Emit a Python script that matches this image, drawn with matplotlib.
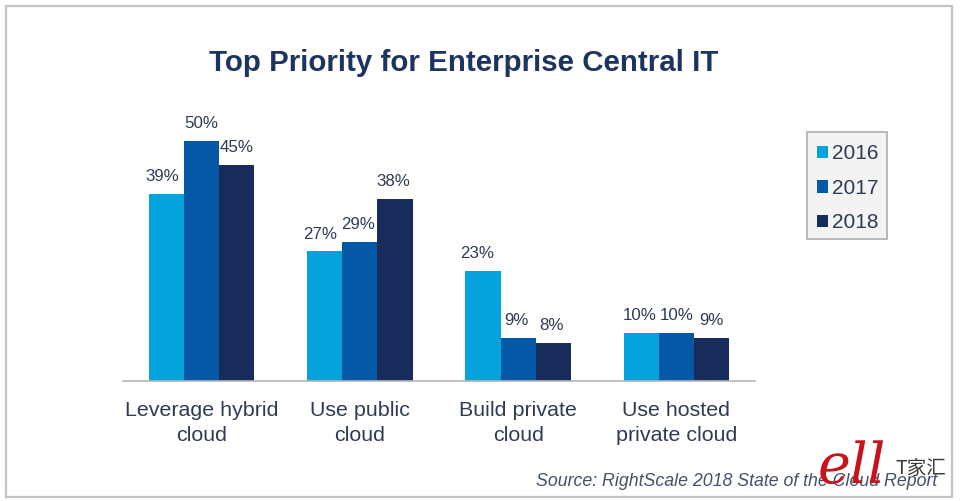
import matplotlib
matplotlib.use("Agg")
import matplotlib.pyplot as plt
from matplotlib.patches import Rectangle
import numpy as np

categories = ["Leverage hybrid\ncloud", "Use public\ncloud", "Build private\ncloud", "Use hosted\nprivate cloud"]
years = ["2016", "2017", "2018"]
v2016 = [39, 27, 23, 10]
v2017 = [50, 29, 9, 10]
v2018 = [45, 38, 8, 9]
series = [v2016, v2017, v2018]
colors = ["#05a3dc", "#0458a6", "#182c5c"]
label_shift = [[-3, -3, -4, -1], [0, -1, -1, 0], [0, -1, -1, 0]]
TEXT = "#2f3b55"
W, H = 960, 501

plt.rcParams["font.family"] = ["Liberation Sans", "DejaVu Sans"]
fig = plt.figure(figsize=(W / 100, H / 100), dpi=100)
fig.add_artist(Rectangle((6 / W, 1 - 497 / H), 946 / W, 491 / H, transform=fig.transFigure,
                         fill=False, ec="#c4c4c4", lw=1.6))
fig.add_artist(Rectangle((807 / W, 1 - 239 / H), 80 / W, 107 / H, transform=fig.transFigure,
                         fc="#f3f3f3", ec="#b9b9b9", lw=1.4))

ax = fig.add_axes([123 / W, 1 - 381 / H, 632 / W, 240 / H])
ax.patch.set_alpha(0)
ax.set_xlim(-0.496, 3.496)
ax.set_ylim(0, 50)
bw = 35.2 / 158.3
x = np.arange(len(categories))
handles = []
for i, (vals, c, yr) in enumerate(zip(series, colors, years)):
    bars = ax.bar(x + (i - 1) * bw, vals, bw, color=c, label=yr, linewidth=0)
    handles.append(bars)
    labels = ax.bar_label(bars, labels=[f"{v}%" for v in vals], padding=7, fontsize=12.2, color=TEXT)
    for t, dx in zip(labels, label_shift[i]):
        t.xyann = (dx, t.xyann[1])
for s in ["top", "left", "right"]:
    ax.spines[s].set_visible(False)
ax.spines["bottom"].set_color("#b5b5b5")
ax.spines["bottom"].set_linewidth(1.2)
ax.set_yticks([])
ax.set_xticks(x)
ax.set_xticklabels(categories, fontsize=15.4, color=TEXT, linespacing=1.4)
ax.tick_params(axis="x", length=0, pad=14.4)

fig.text(464 / W, 1 - 63 / H, "Top Priority for Enterprise Central IT", ha="center", va="center",
         fontsize=21.25, fontweight="bold", color="#1d3360")

leg = fig.legend(handles=handles, labels=years, loc="upper left",
                 bbox_to_anchor=(807 / W, 1 - 134 / H), bbox_transform=fig.transFigure,
                 borderaxespad=0, frameon=False, fontsize=15, labelcolor=TEXT,
                 handlelength=0.53, handleheight=0.53, handletextpad=0.17,
                 labelspacing=0.74, borderpad=0.5)

fig.text(937 / W, 1 - 481 / H, "Source: RightScale 2018 State of the Cloud Report", ha="right", va="center",
         fontsize=12.82, fontstyle="italic", color="#46506a")
fig.text(852 / W, 1 - 468 / H, "ell", ha="center", va="center", fontsize=40,
         family="DejaVu Serif", fontstyle="italic", color="#c8121c", zorder=5)
fig.text(921 / W, 1 - 468 / H, "T家汇", ha="center", va="center", fontsize=14,
         family=["Noto Sans CJK SC", "DejaVu Sans"], color="#3a3a3a", zorder=5)
fig.savefig("out.png", dpi=100)
